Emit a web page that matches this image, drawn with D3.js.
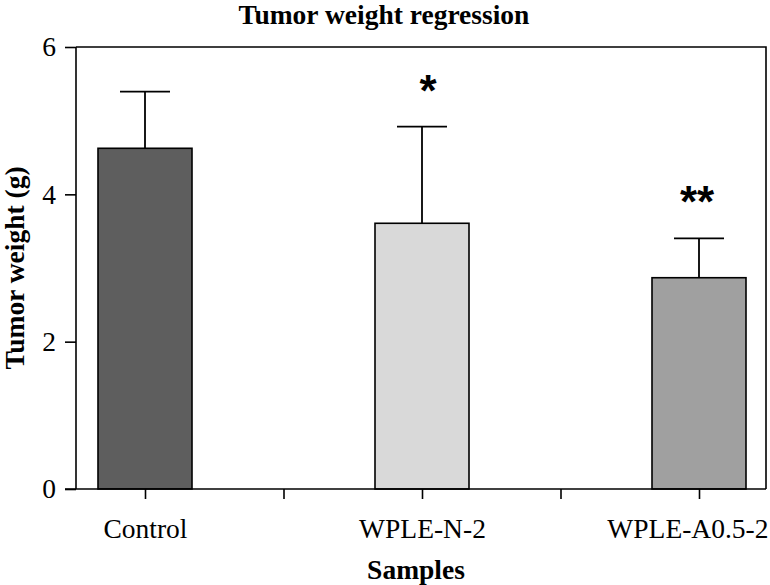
<!DOCTYPE html>
<html>
<head>
<meta charset="utf-8">
<script src="https://cdn.jsdelivr.net/npm/d3@7/dist/d3.min.js"></script>
<style>
  html, body { margin: 0; padding: 0; background: #fff; }
  svg { display: block; }
  text { font-family: "Liberation Serif", "Times New Roman", serif; fill: #000; }
</style>
</head>
<body>
<div id="chart"></div>
<script>
// ---- data ----
const categories = ["Control", "WPLE-N-2", "WPLE-A0.5-2"];
const means = [4.625, 3.607, 2.868];
const errors = [0.768, 1.311, 0.535];
const significance = ["", "*", "**"];
const barColors = ["#5e5e5e", "#d9d9d9", "#a0a0a0"];
const yTicks = [0, 2, 4, 6];
const title = "Tumor weight regression";
const xTitle = "Samples";
const yTitle = "Tumor weight (g)";

// ---- layout ----
const W = 770, H = 585;
const pLeft = 76, pRight = 766, pTop = 47, pBottom = 489;
const fs = 27.5;

const svg = d3.select("#chart").append("svg").attr("width", W).attr("height", H);

const y = d3.scaleLinear().domain([0, 6]).range([pBottom, pTop]);
// index scale: category i at position i, between-ticks at half positions
const x = d3.scaleLinear().domain([0, 2]).range([145, 699]);
const barW = 94, capW = 50;

// frame (top + right)
svg.append("path")
  .attr("d", `M${pLeft},${pTop}H${pRight}V${pBottom}`)
  .attr("fill", "none").attr("stroke", "#000").attr("stroke-width", 1.6);

// bars
svg.selectAll("rect.bar").data(categories).join("rect")
  .attr("class", "bar")
  .attr("x", (d, i) => x(i) - barW / 2)
  .attr("y", (d, i) => y(means[i]))
  .attr("width", barW)
  .attr("height", (d, i) => y(0) - y(means[i]))
  .attr("fill", (d, i) => barColors[i])
  .attr("stroke", "#000").attr("stroke-width", 1.6);

// error bars (upper only)
const eg = svg.append("g").attr("stroke", "#000").attr("stroke-width", 1.8);
categories.forEach((c, i) => {
  eg.append("line").attr("x1", x(i)).attr("x2", x(i))
    .attr("y1", y(means[i])).attr("y2", y(means[i] + errors[i]));
  eg.append("line").attr("x1", x(i) - capW / 2).attr("x2", x(i) + capW / 2)
    .attr("y1", y(means[i] + errors[i])).attr("y2", y(means[i] + errors[i]));
});

// significance stars
svg.selectAll("text.sig").data(categories).join("text")
  .attr("class", "sig")
  .attr("x", (d, i) => x(i) + (i === 1 ? 6 : -2))
  .attr("y", (d, i) => y(means[i] + errors[i]) - 21)
  .attr("text-anchor", "middle")
  .style("font-family", "'Liberation Sans', Arial, sans-serif")
  .style("font-weight", "bold")
  .style("font-size", "44px")
  .text((d, i) => significance[i]);

// y axis
const yAxis = d3.axisLeft(y).tickValues(yTicks).tickSize(11).tickPadding(9).tickFormat(d3.format("d"));
const yg = svg.append("g").attr("transform", `translate(${pLeft},0)`).call(yAxis);
yg.select(".domain").attr("d", `M0,${pTop}V${pBottom}`).attr("stroke-width", 1.6);
yg.selectAll(".tick line").attr("stroke-width", 1.6);
yg.selectAll(".tick text").style("font-size", fs + "px").style("font-family", "'Liberation Serif', serif");

// x axis
const xAxis = d3.axisBottom(x).tickValues([0, 0.5, 1, 1.5, 2]).tickSize(10).tickPadding(19)
  .tickFormat(d => Number.isInteger(d) ? categories[d] : "");
const xg = svg.append("g").attr("transform", `translate(0,${pBottom})`).call(xAxis);
xg.select(".domain").attr("d", `M${pLeft - 11},0H${pRight}`).attr("stroke-width", 1.6);
xg.selectAll(".tick line").attr("stroke-width", 1.6);
xg.selectAll(".tick text").style("font-size", fs + "px").style("font-family", "'Liberation Serif', serif");
// keep last label inside the picture
xg.selectAll(".tick text").filter(d => d === 2).attr("text-anchor", "end").attr("x", pRight + 2 - x(2));

// titles
svg.append("text").attr("x", 384).attr("y", 24).attr("text-anchor", "middle")
  .style("font-weight", "bold").style("font-size", fs + "px").text(title);
svg.append("text").attr("x", 416).attr("y", 579).attr("text-anchor", "middle")
  .style("font-weight", "bold").style("font-size", fs + "px").text(xTitle);
svg.append("text").attr("transform", `translate(24,${(pTop + pBottom) / 2}) rotate(-90)`)
  .attr("text-anchor", "middle")
  .style("font-weight", "bold").style("font-size", fs + "px").text(yTitle);
</script>
</body>
</html>
